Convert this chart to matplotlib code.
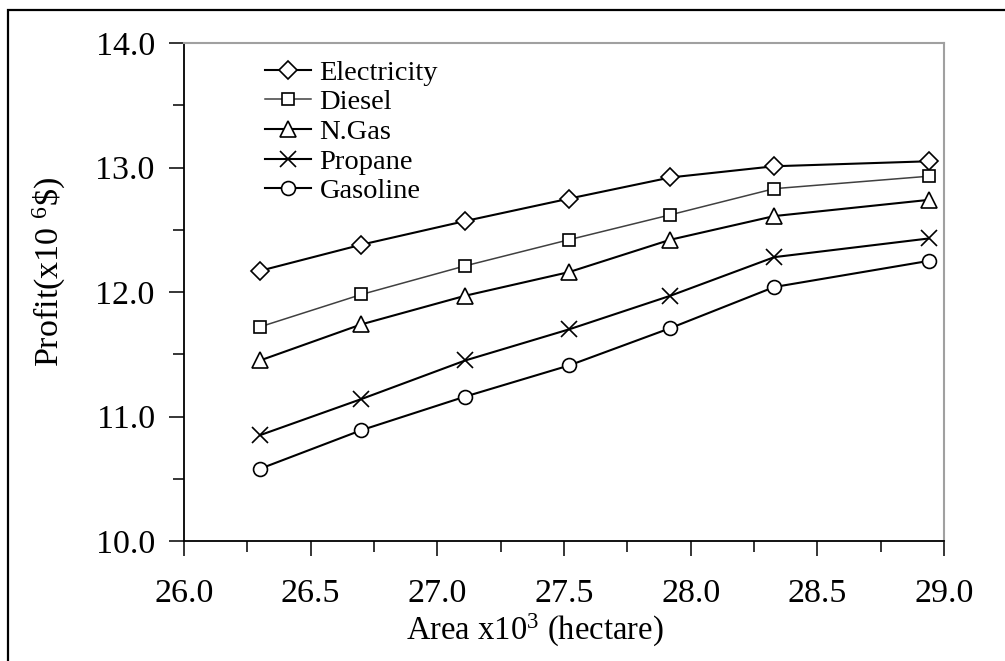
import numpy as np
import matplotlib
matplotlib.use('Agg')
import matplotlib.pyplot as plt
from matplotlib.ticker import MultipleLocator, FuncFormatter
from matplotlib.patches import Rectangle

plt.rcParams['font.family'] = ['Liberation Serif', 'DejaVu Serif']
plt.rcParams['mathtext.fontset'] = 'custom'
plt.rcParams['mathtext.rm'] = 'Liberation Serif'
plt.rcParams['mathtext.it'] = 'Liberation Serif:italic'

area = [26.30, 26.70, 27.11, 27.52, 27.92, 28.33, 28.94]
electricity = [12.17, 12.38, 12.57, 12.75, 12.92, 13.01, 13.05]
diesel = [11.72, 11.98, 12.21, 12.42, 12.62, 12.83, 12.93]
ngas = [11.45, 11.74, 11.97, 12.16, 12.42, 12.61, 12.74]
propane = [10.85, 11.14, 11.45, 11.70, 11.97, 12.28, 12.43]
gasoline = [10.58, 10.89, 11.16, 11.41, 11.71, 12.04, 12.25]

fig = plt.figure(figsize=(10.05, 6.61), dpi=100)
ax = fig.add_axes([184/1005, 1-541/661, (944-184)/1005, (541-43)/661])

# outer frame of the figure
fig.patches.append(Rectangle((8/1005, -0.1), 1.1, 1-10/661+0.1, transform=fig.transFigure,
                             fill=False, edgecolor='black', linewidth=1.6))

ms = dict(markerfacecolor='white', markeredgecolor='black', markeredgewidth=1.2)
ax.plot(area, electricity, '-', color='black', lw=1.5, marker='D', markersize=9, label='Electricity', **ms)
ax.plot(area, diesel, '-', color='#404040', lw=1.1, marker='s', markersize=8, label='Diesel', **ms)
ax.plot(area, ngas, '-', color='black', lw=1.5, marker='^', markersize=11, label='N.Gas', **ms)
ax.plot(area, propane, '-', color='black', lw=1.5, marker='x', markersize=11, label='Propane', **ms)
ax.plot(area, gasoline, '-', color='black', lw=1.5, marker='o', markersize=10, label='Gasoline', **ms)

ax.set_xlim(26.0, 29.0)
ax.set_ylim(10.0, 14.0)
ax.xaxis.set_major_locator(MultipleLocator(0.5))
ax.xaxis.set_minor_locator(MultipleLocator(0.25))
ax.yaxis.set_major_locator(MultipleLocator(1.0))
ax.yaxis.set_minor_locator(MultipleLocator(0.5))
ax.xaxis.set_major_formatter(FuncFormatter(lambda v, p: '%.1f' % v))
ax.yaxis.set_major_formatter(FuncFormatter(lambda v, p: '%.1f' % v))
ax.tick_params(which='major', direction='out', length=11, width=1.1, labelsize=24.5, color='black')
ax.tick_params(which='minor', direction='out', length=8, width=1.1, color='black')
ax.tick_params(axis='x', which='major', pad=16)
ax.tick_params(axis='y', which='major', pad=10)

for s in ['top', 'right']:
    ax.spines[s].set_color('#a0a0a0')
    ax.spines[s].set_linewidth(1.5)
for s in ['left', 'bottom']:
    ax.spines[s].set_color('black')
    ax.spines[s].set_linewidth(1.3)

ax.set_xlabel(r'Area x10$^{3}$ (hectare)', fontsize=23.5)
ax.set_ylabel(r'Profit(x10 $^{6}$\$)', fontsize=24.5)
ax.xaxis.set_label_coords((535-184)/760, -(612-541)/498)
ax.yaxis.set_label_coords(-(184-68)/760, (541-272)/498)

ax.legend(loc='upper left', bbox_to_anchor=(0.077, 1.012), frameon=False, fontsize=20.5,
          handlelength=1.6, handletextpad=0.3, labelspacing=0.13, borderpad=0.3)

plt.savefig('out.png', dpi=100)
